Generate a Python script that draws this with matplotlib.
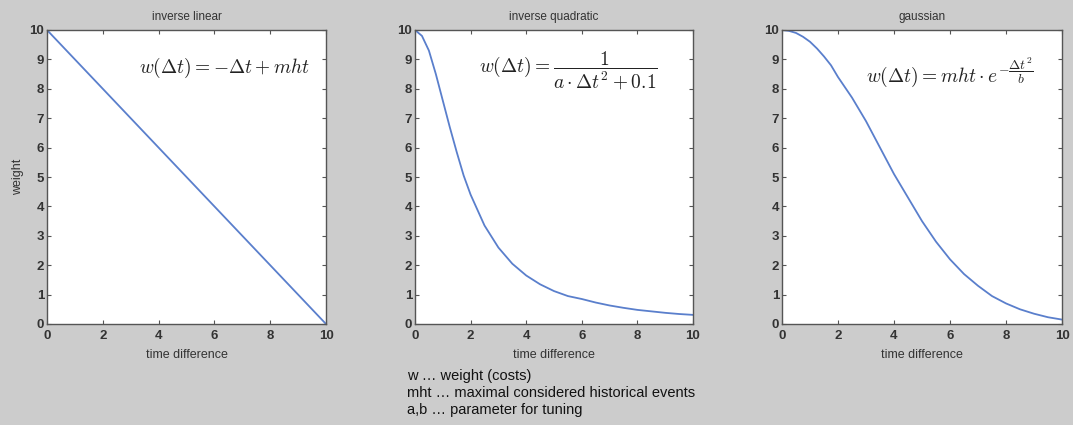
import matplotlib.pyplot as plt
import numpy as np

# values
t_lin = [0, 10]
w_lin = [10, 0]

t_quad = [0, 0.25, 0.5, 0.75, 1, 1.25, 1.5, 1.75, 2, 2.5, 3, 3.5, 4, 4.5, 5,
          5.5, 6, 6.5, 7, 7.5, 8, 8.5, 9, 9.5, 10]
w_quad = [10, 9.8, 9.3, 8.5, 7.6, 6.7, 5.85, 5.05, 4.4, 3.35, 2.6, 2.05, 1.65,
          1.35, 1.12, 0.95, 0.85, 0.73, 0.63, 0.55, 0.48, 0.43, 0.38, 0.34, 0.31]

t_gauss = [0, 0.25, 0.5, 0.75, 1, 1.25, 1.5, 1.75, 2, 2.5, 3, 3.5, 4, 4.5, 5,
           5.5, 6, 6.5, 7, 7.5, 8, 8.5, 9, 9.5, 10]
w_gauss = [10, 9.97, 9.9, 9.77, 9.6, 9.37, 9.1, 8.8, 8.4, 7.7, 6.9, 6.0, 5.1,
           4.3, 3.5, 2.8, 2.2, 1.7, 1.3, 0.95, 0.7, 0.5, 0.35, 0.23, 0.15]

titles = ["inverse linear", "inverse quadratic", "gaussian"]
formulas = [r"$w(\Delta t) = -\Delta t + mht$",
            r"$w(\Delta t) = \dfrac{1}{a \cdot \Delta t^2 + 0.1}$",
            r"$w(\Delta t) = mht \cdot e^{-\dfrac{\Delta t^2}{b}}$"]
formula_pos = [(3.3, 8.7), (2.3, 8.6), (3.0, 8.55)]
notes = ["w \u2026 weight (costs)",
         "mht \u2026 maximal considered historical events",
         "a,b \u2026 parameter for tuning"]

BG = "#cccccc"
LINE = "#5a7fcc"
plt.rcParams["font.family"] = ["Liberation Sans", "DejaVu Sans"]
plt.rcParams["mathtext.fontset"] = "cm"

fig = plt.figure(figsize=(10.73, 4.25), dpi=100, facecolor=BG)
W, H = 1073.0, 425.0
boxes = [(47, 326), (415, 693), (782, 1062)]
top, bottom = 30, 324

data = [(t_lin, w_lin), (t_quad, w_quad), (t_gauss, w_gauss)]
for i, (x0, x1) in enumerate(boxes):
    ax = fig.add_axes([x0 / W, 1 - bottom / H, (x1 - x0) / W, (bottom - top) / H])
    ax.set_facecolor("white")
    t, w = data[i]
    ax.plot(t, w, color=LINE, lw=1.3)
    ax.set_xlim(0, 10)
    ax.set_ylim(0, 10)
    ax.set_xticks(np.arange(0, 11, 2))
    ax.set_yticks(np.arange(0, 11, 1))
    ax.tick_params(direction="in", top=True, right=True, length=3,
                   colors="#555555", labelcolor="#333333", labelsize=9.5)
    ax.tick_params(axis="x", pad=4)
    ax.tick_params(axis="y", pad=2)
    for s in ax.spines.values():
        s.set_color("#555555")
        s.set_linewidth(1.0)
    for lab in ax.get_xticklabels() + ax.get_yticklabels():
        lab.set_fontweight("bold")
    ax.set_title(titles[i], fontsize=8.5, color="#333333", pad=7)
    ax.set_xlabel("time difference", fontsize=9, color="#333333", labelpad=5)
    if i == 0:
        ax.set_ylabel("weight", fontsize=9, color="#333333", labelpad=4)
    fx, fy = formula_pos[i]
    ax.text(fx, fy, formulas[i], fontsize=14, color="#222222", va="center", ha="left")

for k, line in enumerate(notes):
    fig.text(407 / W, 1 - (376 + 17 * k) / H, line, fontsize=10.5, color="#111111",
             va="center", ha="left")

fig.savefig("out.png", dpi=100, facecolor=BG)
